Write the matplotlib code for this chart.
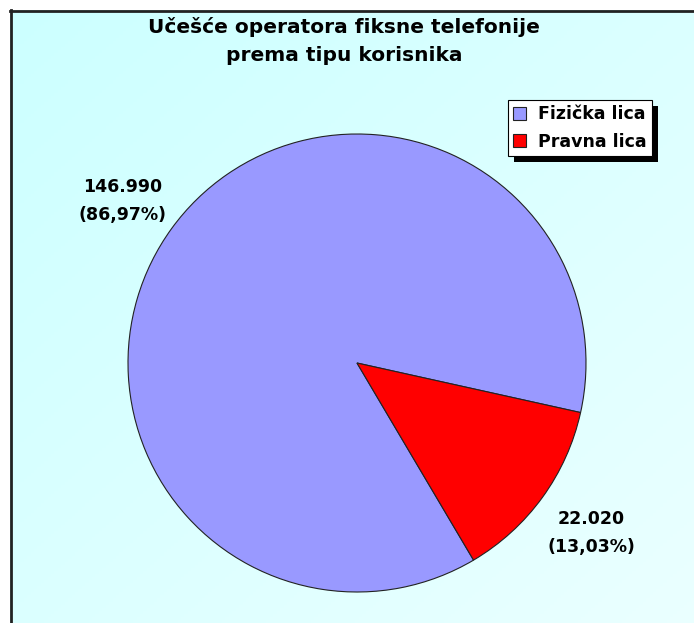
import matplotlib.pyplot as plt
import matplotlib.patches as mpatches
from matplotlib.transforms import IdentityTransform, offset_copy
import numpy as np

# data
categories = ['Fizička lica', 'Pravna lica']
values = [146990, 22020]
colors = ['#9999FF', '#FF0000']
title = 'Učešće operatora fiksne telefonije\nprema tipu korisnika'

W, H = 694, 623
fig = plt.figure(figsize=(W / 100, H / 100), dpi=100)
fig.patch.set_facecolor('white')
plt.rcParams['font.family'] = ['DejaVu Sans']

# background panel with soft diagonal gradient
bg = fig.add_axes([10 / W, 0, 1 - 10 / W, 1 - 10 / H])
yy, xx = np.mgrid[0:1:200j, 0:1:200j]
t = (xx + yy) / 2
c0 = np.array([0.80, 1.0, 1.0])
c1 = np.array([0.92, 1.0, 1.0])
img = c0[None, None, :] * (1 - t[..., None]) + c1[None, None, :] * t[..., None]
bg.imshow(img, extent=[0, 1, 0, 1], aspect='auto', origin='upper')
bg.set_xlim(0, 1)
bg.set_ylim(0, 1)
bg.axis('off')
bg.plot([0.001, 0.001], [0, 1], color='#222222', lw=2, transform=bg.transAxes, clip_on=False)
bg.plot([0, 1], [0.999, 0.999], color='#222222', lw=2, transform=bg.transAxes, clip_on=False)

fig.text(344 / W, 1 - 41 / H, title, ha='center', va='center', fontsize=14.5,
         fontweight='bold', linespacing=1.62)

# pie
cx, cy, r = 357, 363, 229
ax = fig.add_axes([(cx - r) / W, (H - cy - r) / H, 2 * r / W, 2 * r / H])
total = sum(values)
labels = ['{:,}'.format(v).replace(',', '.') + '\n(' +
          ('%.2f' % (100 * v / total)).replace('.', ',') + '%)' for v in values]
wedges, texts = ax.pie(values, colors=colors, startangle=-12.5, counterclock=True,
                       labels=labels, labeldistance=1.265,
                       wedgeprops=dict(edgecolor='#222222', linewidth=0.8),
                       textprops=dict(fontsize=12.5, fontweight='bold', linespacing=1.75))
for tx in texts:
    tx.set_ha('center')
    tx.set_va('center')
# nudge the big slice label down a little, as in the original layout
texts[0].set_transform(offset_copy(ax.transData, fig=fig, x=0, y=-8, units='dots'))
ax.set_xlim(-1, 1)
ax.set_ylim(-1, 1)
ax.set_aspect('equal')
ax.axis('off')

leg = fig.legend(wedges, categories, loc='upper left',
                 bbox_to_anchor=(508 / W, 1 - 100 / H),
                 prop=dict(weight='bold', size=12.5),
                 frameon=True, fancybox=False, edgecolor='black', framealpha=1,
                 handlelength=0.75, handleheight=0.75, handletextpad=0.7,
                 borderpad=0.3, labelspacing=0.55, borderaxespad=0)
leg.get_frame().set_linewidth(0.8)
leg.set_zorder(5)
fig.canvas.draw()
bb = leg.get_window_extent()
shadow = mpatches.Rectangle((bb.x0 + 6, bb.y0 - 6), bb.width, bb.height,
                            transform=IdentityTransform(), facecolor='black',
                            edgecolor='none', zorder=4)
fig.add_artist(shadow)

plt.savefig('out.png', dpi=100)
